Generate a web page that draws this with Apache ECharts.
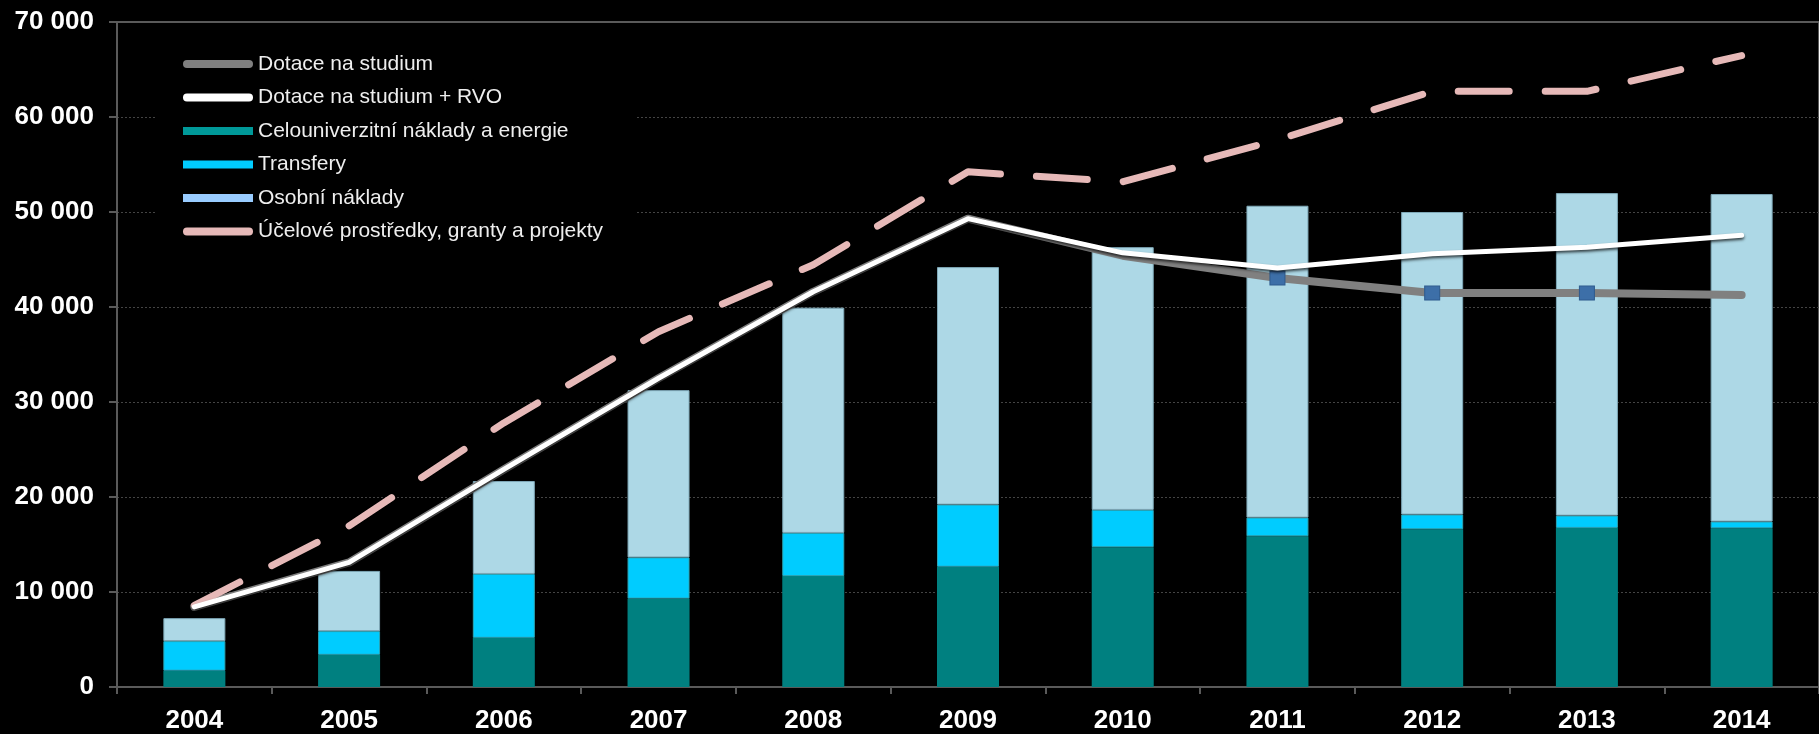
<!DOCTYPE html>
<html>
<head>
<meta charset="utf-8">
<title>Dotace a náklady</title>
<script src="https://cdn.jsdelivr.net/npm/echarts@6/dist/echarts.min.js"></script>
<style>
	html, body {margin:0; padding:0; background:#000;}
	#chart {width:1819px; height:734px;}
</style>
</head>
<body>
<div id="chart"></div>
<script>
var years = ['2004','2005','2006','2007','2008','2009','2010','2011','2012','2013','2014'];

// skládané sloupce
var celouniverzitni = [1720, 3390, 5180, 9310, 11680, 12660, 14720, 15870, 16610, 16750, 16710];
var transfery = [3110, 2490, 6720, 4330, 4540, 6540, 3920, 1960, 1540, 1290, 700];
var osobni = [2420, 6340, 9780, 17610, 23710, 25000, 27660, 32830, 31850, 33950, 34480];

// čáry
var dotaceStudium = [8430, 13110, 22900, 32500, 41600, 49300, 45400, 43050, 41470, 41470, 41260];
var dotaceRvo = [8430, 13110, 22900, 32500, 41600, 49300, 45700, 44100, 45600, 46300, 47550];
var ucelove = [8600, 16960, 27800, 37400, 44450, 54230, 53180, 57600, 62700, 62700, 66470];

// roky s čtverečkem na šedé čáře
var markerYears = ['2011','2012','2013'];

var yTicks = [0, 10000, 20000, 30000, 40000, 50000, 60000, 70000];

var font = 'Liberation Sans, Arial, sans-serif';
var pill = 'path://M4,0 L66,0 A4,4 0 0 1 66,8 L4,8 A4,4 0 0 1 4,0 Z';

function formatThousands(v){
	var s = String(v);
	return s.replace(/\B(?=(\d{3})+(?!\d))/g, ' ');
}

function studiumData(){
	var out = [];
	for (var i = 0; i < years.length; i++) {
		if (markerYears.indexOf(years[i]) >= 0) {
			out.push({
				value: dotaceStudium[i],
				symbol: 'rect',
				symbolSize: [15, 14],
				itemStyle: {color: '#3d6fa8', borderColor: '#2e5b8e', borderWidth: 1}
			});
		} else {
			out.push({value: dotaceStudium[i], symbol: 'none'});
		}
	}
	return out;
}

function initChart(){
	var chart = echarts.init(document.getElementById('chart'));
	var option = {
		backgroundColor: '#000',
		animation: false,
		textStyle: {fontFamily: font},
		grid: {
			left: 117,
			top: 22,
			width: 1713,
			height: 667,
			show: true,
			borderColor: '#5a5a5a',
			borderWidth: 2,
			backgroundColor: 'transparent'
		},
		legend: {
			orient: 'vertical',
			left: 157,
			top: 33,
			padding: [20, 32, 20, 26],
			backgroundColor: '#000',
			itemWidth: 70,
			itemHeight: 8,
			itemGap: 11.5,
			selectedMode: false,
			itemStyle: {borderWidth: 0},
			textStyle: {color: '#eeeeee', fontSize: 21, lineHeight: 22, fontFamily: font},
			data: [
				{name: 'Dotace na studium', icon: pill, itemStyle: {color: '#808080'}},
				{name: 'Dotace na studium + RVO', icon: pill, itemStyle: {color: '#ffffff'}},
				{name: 'Celouniverzitní náklady a energie', icon: 'rect', itemStyle: {color: '#009999'}},
				{name: 'Transfery', icon: 'rect', itemStyle: {color: '#00ccff'}},
				{name: 'Osobní náklady', icon: 'rect', itemStyle: {color: '#99ccff'}},
				{name: 'Účelové prostředky, granty a projekty', icon: pill, itemStyle: {color: '#e6b9b8'}}
			]
		},
		xAxis: {
			type: 'category',
			data: years,
			axisLine: {lineStyle: {color: '#5a5a5a', width: 2}},
			axisTick: {show: true, length: 7, lineStyle: {color: '#5a5a5a', width: 2}},
			axisLabel: {color: '#fff', fontSize: 26, fontWeight: 'bold', margin: 21, fontFamily: font}
		},
		yAxis: {
			type: 'value',
			min: yTicks[0],
			max: yTicks[yTicks.length - 1],
			interval: 10000,
			axisLine: {show: true, lineStyle: {color: '#5a5a5a', width: 2}},
			axisTick: {show: true, length: 8, lineStyle: {color: '#5a5a5a', width: 2}},
			axisLabel: {
				color: '#fff', fontSize: 26, fontWeight: 'bold', margin: 23, fontFamily: font,
				formatter: function(v){ return formatThousands(v); }
			},
			splitLine: {
				show: true,
				showMinLine: false,
				showMaxLine: false,
				lineStyle: {color: '#444', width: 1, type: [2, 2]}
			}
		},
		series: [
			{
				name: 'Celouniverzitní náklady a energie',
				type: 'bar',
				stack: 'naklady',
				barWidth: 62,
				itemStyle: {color: '#008080'},
				data: celouniverzitni
			},
			{
				name: 'Transfery',
				type: 'bar',
				stack: 'naklady',
				itemStyle: {color: '#00ccff', borderColor: '#2aa7b8', borderWidth: 1},
				data: transfery
			},
			{
				name: 'Osobní náklady',
				type: 'bar',
				stack: 'naklady',
				itemStyle: {color: '#add8e6', borderColor: '#7fa9b8', borderWidth: 1},
				data: osobni
			},
			{
				name: 'Dotace na studium',
				type: 'line',
				z: 3,
				symbol: 'none',
				itemStyle: {color: '#808080'},
				lineStyle: {color: '#808080', width: 8, cap: 'round', join: 'round'},
				data: studiumData()
			},
			{
				name: 'Dotace na studium + RVO',
				type: 'line',
				z: 4,
				symbol: 'none',
				itemStyle: {color: '#ffffff'},
				lineStyle: {
					color: '#ffffff', width: 5, cap: 'round', join: 'round',
					shadowColor: 'rgba(0,0,0,0.7)', shadowBlur: 3, shadowOffsetY: 2
				},
				data: dotaceRvo
			},
			{
				name: 'Účelové prostředky, granty a projekty',
				type: 'line',
				z: 3,
				symbol: 'none',
				itemStyle: {color: '#e6b9b8'},
				lineStyle: {color: '#e6b9b8', width: 7, type: [51, 36], cap: 'round', join: 'round'},
				data: ucelove
			}
		]
	};
	chart.setOption(option);
}

initChart();
</script>
</body>
</html>
